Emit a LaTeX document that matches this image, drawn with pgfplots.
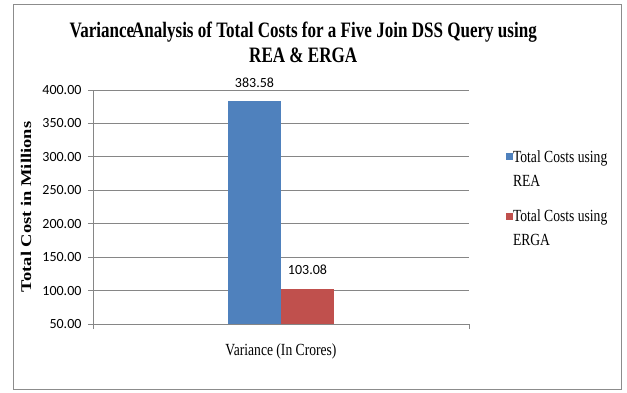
\documentclass[border=0pt]{standalone}
\usepackage{fontspec}
\usepackage{graphicx}
\setmainfont{Liberation Serif}
\newfontfamily\carlito{Carlito}
\newfontfamily\titlefont[FakeStretch=0.775]{Liberation Serif}
\newfontfamily\condfont[FakeStretch=0.8]{Liberation Serif}
\usepackage{pgfplots}
\pgfplotsset{compat=1.18}
\definecolor{reablue}{HTML}{4F81BD}
\definecolor{ergared}{HTML}{C0504D}
\definecolor{gridgray}{HTML}{868686}
\definecolor{framegray}{HTML}{8C8C8C}
\begin{document}
\begin{tikzpicture}
\path[use as bounding box] (0pt,0pt) rectangle (627pt,392pt);
\draw[framegray, line width=1pt] (13pt,3pt) rectangle (621pt,387pt);
\begin{axis}[
  at={(93pt,68pt)}, anchor=south west,
  scale only axis, width=376pt, height=234pt,
  ybar=0pt, bar width=53pt,
  xmin=-1, xmax=1, ymin=50, ymax=400,
  xtick={-1,1}, xticklabels={,},
  ytick={50,100,...,400},
  axis x line*=bottom, axis y line*=left,
  axis line style={gridgray, line width=0.8pt},
  tick style={gridgray, line width=0.8pt},
  tick align=outside, major tick length=5pt,
  ymajorgrids, grid style={gridgray, line width=0.8pt},
  /pgf/number format/.cd, fixed, fixed zerofill, precision=2, assume math mode=true,
  /pgfplots/.cd,
  yticklabel style={font=\carlito\fontsize{14}{14}\selectfont, xshift=-3pt},
  nodes near coords,
  every node near coord/.append style={font=\carlito\fontsize{14}{14}\selectfont, black, yshift=10pt},
  nodes near coords style={/pgf/number format/.cd, fixed, fixed zerofill, precision=2},
  ylabel={\scalebox{1}[0.8]{\bfseries\fontsize{18.5}{18.5}\selectfont Total Cost in Millions}},
  every axis y label/.style={at={(axis description cs:-0.178,0.5)}, rotate=90, anchor=center},
  xlabel={\condfont\fontsize{17}{17}\selectfont Variance (In Crores)},
  every axis x label/.style={at={(axis description cs:0.5,-0.115)}, anchor=center},
  title={Variance\kern-0.1em Analysis of Total Costs for a Five Join DSS Query using\\REA \& ERGA},
  every axis title/.style={at={(axis description cs:0.559,1.202)}, anchor=center, align=center,
    font=\titlefont\bfseries\fontsize{22}{25}\selectfont},
  legend style={draw=none, fill=none, at={(axis description cs:1.09,0.75)}, anchor=north west,
    font=\condfont\fontsize{17}{24}\selectfont, row sep=22pt,
    nodes={align=left, inner sep=0pt}},
  legend cell align=left,
  legend image code/.code={\fill[#1] (0pt,9pt) rectangle (7pt,16pt);},
]
\addplot[fill=reablue, draw=none] coordinates {(0,383.58)};
\addplot[fill=ergared, draw=none] coordinates {(0,103.08)};
\legend{Total Costs using\\REA, Total Costs using\\ERGA}
\end{axis}
\end{tikzpicture}
\end{document}
